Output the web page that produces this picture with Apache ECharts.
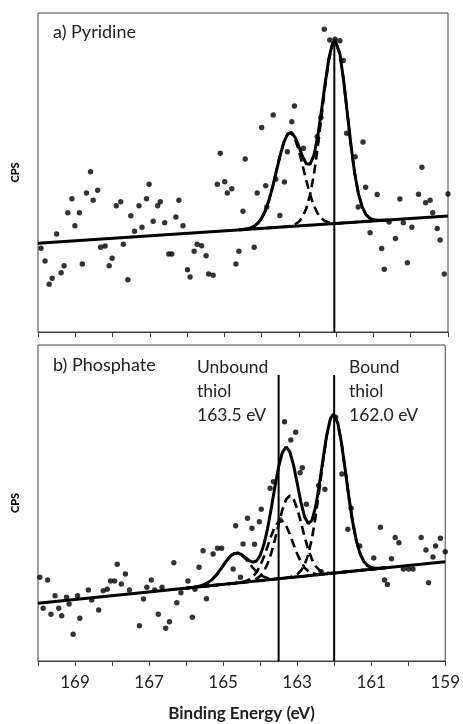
<!DOCTYPE html>
<html><head><meta charset="utf-8">
<script src="https://cdn.jsdelivr.net/npm/echarts@6/dist/echarts.min.js"></script>
<style>html,body{margin:0;padding:0;background:#fff}#c{width:463px;height:724px}</style>
</head><body><div id="c"></div>
<script>
// ---------- axis ----------
const xMin = 159, xMax = 170;
const xTickLabels = [169, 167, 165, 163, 161, 159];

// ---------- panel a) Pyridine : measured points ----------
const pyridineEnergy = [169.92,169.81,169.70,169.62,169.50,169.38,169.30,169.20,169.09,169.01,
168.89,168.81,168.70,168.59,168.52,168.40,168.32,168.20,168.09,168.01,
167.90,167.78,167.71,167.59,167.51,167.41,167.29,167.21,167.09,167.02,
166.91,166.79,166.72,166.60,166.49,166.41,166.30,166.22,166.11,165.99,
165.92,165.81,165.73,165.61,165.49,165.42,165.30,165.19,165.11,164.99,
164.92,164.80,164.69,164.61,164.50,164.44,164.20,164.12,164.00,163.89,
163.86,163.69,163.62,163.51,163.39,163.31,163.19,163.12,162.88,162.51,
162.41,162.32,162.17,162.03,161.90,161.81,161.72,161.49,161.41,161.28,
161.21,161.09,160.90,160.78,160.71,160.58,160.41,160.29,160.20,160.09,
159.97,159.79,159.70,159.60,159.48,159.41,159.29,159.21,159.10,159.00];
const pyridineCPS = [83.7,71,47.7,53.7,98,59.3,66.3,119.3,133.3,106.3,
119.3,68,139,160.3,131.7,141.7,84.7,86,66.3,73.7,
126.3,130.3,87.7,52.3,116.3,100.7,126.3,104.7,133.3,147.7,
110.7,126.3,130.3,109.3,78,78,115,131.7,106.3,62.3,
55,80.7,87.7,86.3,76.3,58,56.7,147.7,178.7,150.3,
139,143.3,68,80.7,120.7,173,84.7,139,204.5,146.3,
125,217,152.7,116.5,150,180.3,210.3,226,183.7,195.3,
214.3,302.7,292,292.7,291.3,271.5,198.7,175.3,125,190,
144.7,99.3,137.5,83.5,62.7,110,93.5,133,109.3,69.3,
104.7,137.7,164.7,129.2,131.8,119.3,103.5,92,58,138];

// panel a fit curves
const fitEnergyA = [164.6,164.5,164.4,164.3,164.2,164.1,164.0,163.9,163.8,163.7,163.6,163.5,163.4,163.3,163.2,163.1,163.0,162.9,162.8,162.7,162.6,162.5,162.4,162.3,162.2,162.1,162.03,162.0,161.9,161.8,161.7,161.6,161.5,161.4,161.3,161.2,161.1,161.0,160.9,160.8,160.7,160.6];
const envelopeA = [102.2,102.6,103.1,104.1,105.8,108.8,113.8,121.4,132.2,145.9,161.6,177.2,190.2,198.1,199.6,194.7,185.5,175.3,168.2,167.8,176.4,194.4,219.7,247.8,272.8,288.5,292.0,291.2,277.9,251.5,218.4,185.6,157.9,137.8,124.8,117.4,113.8,112.2,111.7,111.7,111.8,112.0];
const component1A = [102.2,102.6,103.1,104.1,105.8,108.8,113.8,121.4,132.2,145.9,161.6,177.2,190.1,197.8,198.8,192.8,181.3,166.4,151.1,137.4,126.5,118.7,113.8,110.9,109.6,108.9,108.8,108.8,108.9,109.1,109.3,109.6,109.8,110.1,110.3,110.5,110.8,111.0,111.3,111.5,111.8,112.0];
const component2A = [102.1,102.4,102.6,102.8,103.1,103.3,103.6,103.8,104.1,104.3,104.6,104.9,105.2,105.6,106.4,107.7,110.3,115.2,123.7,137.2,157.0,183.0,213.5,244.7,271.3,287.9,291.7,291.0,277.8,251.5,218.4,185.6,157.9,137.8,124.8,117.4,113.8,112.2,111.7,111.7,111.8,112.0];
const backgroundEnergyA = [170, 159];
const backgroundA = [88.7, 116.0];
const markerEnergyA = [162.05];
const markerTopA = [292];

// ---------- panel b) Phosphate : measured points ----------
const phosphateEnergy = [169.95,169.86,169.74,169.65,169.54,169.44,169.36,169.23,169.16,169.05,
168.93,168.87,168.64,168.55,168.36,168.24,168.13,168.04,167.93,167.86,
167.75,167.64,167.53,167.26,167.15,167.06,166.94,166.85,166.75,166.65,
166.55,166.45,166.33,166.25,166.14,165.95,165.83,165.76,165.65,165.54,
165.45,165.27,165.15,165.04,164.73,164.66,164.53,164.46,164.34,164.22,
164.15,164.02,163.97,163.73,163.64,163.46,163.34,163.17,163.04,162.92,
162.86,162.75,162.42,162.25,161.96,161.79,161.54,161.63,161.31,160.93,
160.75,160.64,160.56,160.45,160.35,160.25,160.13,159.99,159.87,159.65,
159.52,159.45,159.33,159.26,159.13,159.00,162.35];
const phosphateCPS = [83.7,52.7,81,46.7,65.3,52.7,45.3,63.7,57,26.7,
65.3,42.7,71,61,51,70.3,71.7,80,80,96.7,
77,87,71,35.3,62,73.7,81,71,46.7,73.7,
32.7,39.3,98.3,58.3,68.3,80,43.7,71.7,93.7,110.3,
62.3,107,112.7,112.7,92,135.3,83.7,117,142.7,132.7,
116.7,139.3,151.7,172.7,179.3,141,239.3,221,228.7,188.3,
193.3,156.7,175.5,171.8,243.7,187,152.7,131.7,115,103,
133.7,81,76.5,102.3,123.5,118.3,92,92,92,123.5,
111,78.3,104,115,122.7,109.3,89.3];

// panel b fit curves
const fitEnergyB = [166.0,165.9,165.8,165.7,165.6,165.5,165.4,165.3,165.2,165.1,165.0,164.9,164.8,164.7,164.6,164.5,164.4,164.3,164.2,164.1,164.0,163.9,163.8,163.7,163.6,163.5,163.4,163.3,163.2,163.1,163.0,162.9,162.8,162.7,162.6,162.5,162.4,162.3,162.2,162.1,162.02,162.0,161.9,161.8,161.7,161.6,161.5,161.4,161.3,161.2,161.1,161.0,160.9,160.8,160.7,160.6];
const envelopeB = [72.9,73.3,73.8,74.4,75.3,76.6,78.6,81.4,85.2,90.0,95.4,100.6,104.9,107.5,108.0,106.4,103.6,100.5,98.8,100.0,
105.4,116.2,132.2,152.5,174.3,194.3,208.5,214.0,209.5,196.4,178.1,159.2,144.3,137.4,140.6,154.3,176.2,202.1,226.2,242.5,
247.0,246.8,237.8,217.5,191.0,163.3,139.0,120.1,107.3,99.5,95.4,93.5,92.8,92.8,93.0,93.3];
const unbound2B = [72.9,73.3,73.8,74.4,75.3,76.6,78.6,81.4,85.2,90.0,95.4,100.6,104.9,107.5,107.8,106.0,102.5,98.0,93.4,89.4,
86.3,84.2,83.0,82.5,82.3,82.5,82.7,83.1,83.4,83.8,84.2,84.6,84.9,85.3,85.7,86.1,86.5,86.8,87.2,87.6,
87.9,88.0,88.3,88.7,89.1,89.5,89.9,90.2,90.6,91.0,91.4,91.8,92.1,92.5,92.9,93.3];
const unbound1B = [72.8,73.2,73.6,74.0,74.4,74.7,75.1,75.5,75.9,76.2,76.6,77.0,77.4,77.8,78.3,78.9,79.8,81.4,84.1,88.5,
95.1,103.9,114.4,125.2,134.3,139.6,140.0,135.5,127.1,117.0,107.3,99.2,93.4,89.8,87.9,87.0,86.8,87.0,87.3,87.6,
87.9,88.0,88.3,88.7,89.1,89.5,89.9,90.2,90.6,91.0,91.4,91.8,92.1,92.5,92.9,93.3];
const bound2B = [72.8,73.2,73.6,74.0,74.4,74.7,75.1,75.5,75.9,76.2,76.6,77.0,77.4,77.8,78.1,78.6,79.0,79.6,80.5,82.1,
84.9,89.6,97.1,107.8,121.5,136.8,151.1,161.5,165.4,162.2,152.6,139.1,124.5,111.6,101.7,94.9,90.9,88.9,88.1,87.9,
88.0,88.1,88.4,88.7,89.1,89.5,89.9,90.2,90.6,91.0,91.4,91.8,92.1,92.5,92.9,93.3];
const bound1B = [72.8,73.2,73.6,74.0,74.4,74.7,75.1,75.5,75.9,76.2,76.6,77.0,77.4,77.8,78.1,78.5,78.9,79.3,79.6,80.0,
80.4,80.8,81.2,81.5,81.9,82.3,82.7,83.2,83.8,84.8,86.6,90.1,96.2,106.6,122.5,144.5,171.4,199.9,225.3,242.2,
246.9,246.7,237.7,217.5,191.0,163.3,139.0,120.1,107.3,99.5,95.4,93.5,92.8,92.8,93.0,93.3];
const backgroundEnergyB = [170, 159];
const backgroundB = [57.7, 99.3];
const markerEnergyB = [163.5, 162.0];
const markerTopB = [286, 286];

// ---------- helpers ----------
const zip = (xs, ys) => xs.map((x, i) => [x, ys[i]]);
const INK = '#000';
const FRAME = '#404040';
const FONT = 'Lato, "Open Sans", sans-serif';

function xAxis(gi, showLabels) {
  return {
    gridIndex: gi, type: 'value', min: xMin, max: xMax, interval: 1, inverse: true,
    axisLine: { show: true, onZero: false, lineStyle: { color: FRAME, width: 1 } },
    axisTick: { show: true, inside: false, length: 5, lineStyle: { color: FRAME, width: 1 } },
    axisLabel: {
      show: showLabels, margin: 13, color: '#222', fontFamily: FONT, fontSize: 17,
      formatter: v => xTickLabels.includes(Math.round(v)) && Math.abs(v - Math.round(v)) < 1e-6 ? String(Math.round(v)) : ''
    },
    splitLine: { show: false },
    name: showLabels ? 'Binding Energy (eV)' : '',
    nameLocation: 'middle', nameGap: 44,
    nameTextStyle: { fontFamily: FONT, fontSize: 17, fontWeight: 'bold', color: '#222' }
  };
}
function yAxis(gi, max) {
  return {
    gridIndex: gi, type: 'value', min: 0, max: max,
    axisLine: { show: false }, axisTick: { show: false }, axisLabel: { show: false },
    splitLine: { show: false },
    name: 'CPS', nameLocation: 'middle', nameGap: 17, nameRotate: 90,
    nameTextStyle: { fontFamily: FONT, fontSize: 11, fontWeight: 900, color: '#000' }
  };
}
function solid(gi, data, w) {
  return { type: 'line', xAxisIndex: gi, yAxisIndex: gi, data, showSymbol: false, symbol: 'none',
    lineStyle: { color: INK, width: w }, silent: true, z: 3, clip: true };
}
function dashed(gi, data) {
  return { type: 'line', xAxisIndex: gi, yAxisIndex: gi, data, showSymbol: false, symbol: 'none',
    lineStyle: { color: INK, width: 2.6, type: [9, 5] }, silent: true, z: 2 };
}
function dots(gi, data) {
  return { type: 'scatter', xAxisIndex: gi, yAxisIndex: gi, data, symbol: 'circle', symbolSize: 5.4,
    itemStyle: { color: INK }, silent: true, z: 4 };
}
function markers(gi, es, tops) {
  return es.map((e, i) => ({ type: 'line', xAxisIndex: gi, yAxisIndex: gi, data: [[e, 0], [e, tops[i]]],
    showSymbol: false, symbol: 'none', lineStyle: { color: INK, width: 2 }, silent: true, z: 3 }));
}

const chart = echarts.init(document.getElementById('c'), null, { renderer: 'canvas' });
chart.setOption({
  animation: false,
  backgroundColor: '#fff',
  grid: [
    { left: 38, top: 13, width: 410, height: 319, show: true, borderColor: FRAME, borderWidth: 1, backgroundColor: 'transparent' },
    { left: 38, top: 345, width: 410, height: 316, show: true, borderColor: FRAME, borderWidth: 1, backgroundColor: 'transparent' }
  ],
  xAxis: [xAxis(0, false), xAxis(1, true)],
  yAxis: [yAxis(0, 319), yAxis(1, 316)],
  graphic: [
    { type: 'text', left: 53, top: 23, style: { text: 'a) Pyridine', fontFamily: FONT, fontSize: 18, fill: '#222' } },
    { type: 'text', left: 53, top: 356, style: { text: 'b) Phosphate', fontFamily: FONT, fontSize: 18, fill: '#222' } },
    { type: 'text', left: 197, top: 355, style: { text: 'Unbound\nthiol\n163.5 eV', fontFamily: FONT, fontSize: 17.5, lineHeight: 24, fill: '#222' } },
    { type: 'text', left: 349, top: 355, style: { text: 'Bound\nthiol\n162.0 eV', fontFamily: FONT, fontSize: 17.5, lineHeight: 24, fill: '#222' } }
  ],
  series: [
    solid(0, zip(backgroundEnergyA, backgroundA), 3),
    dashed(0, zip(fitEnergyA, component1A)),
    dashed(0, zip(fitEnergyA, component2A)),
    solid(0, zip(fitEnergyA, envelopeA), 3),
    ...markers(0, markerEnergyA, markerTopA),
    dots(0, zip(pyridineEnergy, pyridineCPS)),

    solid(1, zip(backgroundEnergyB, backgroundB), 3),
    dashed(1, zip(fitEnergyB, unbound2B)),
    dashed(1, zip(fitEnergyB, unbound1B)),
    dashed(1, zip(fitEnergyB, bound2B)),
    dashed(1, zip(fitEnergyB, bound1B)),
    solid(1, zip(fitEnergyB, envelopeB), 3),
    ...markers(1, markerEnergyB, markerTopB),
    dots(1, zip(phosphateEnergy, phosphateCPS))
  ]
});
</script>
</body></html>
